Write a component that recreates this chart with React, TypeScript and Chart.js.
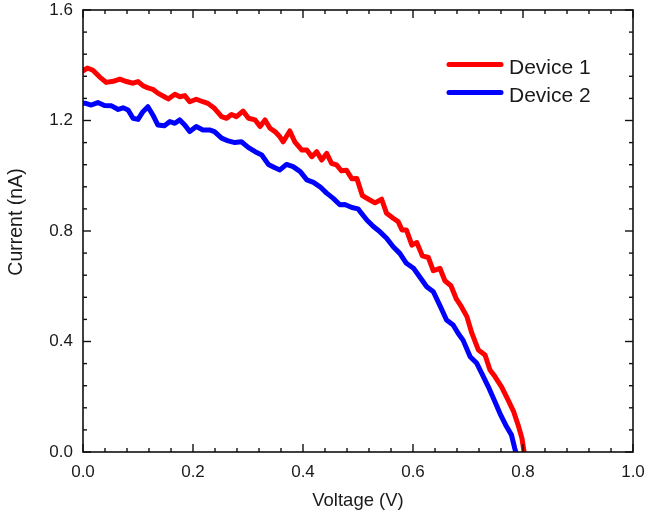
import React, { useEffect, useRef } from "react";
import { Chart, registerables } from "chart.js";

Chart.register(...registerables);

const seriesLabels = ["Device 1", "Device 2"];
const seriesColors = ["#ff0000", "#0000ff"];

const device1Voltage = [
  0.0, 0.008, 0.018, 0.03, 0.042, 0.055, 0.067, 0.079, 0.091, 0.1, 0.109, 0.118, 0.127, 0.136,
  0.148, 0.155, 0.167, 0.176, 0.185, 0.194, 0.206, 0.218, 0.227, 0.239, 0.252, 0.261, 0.27,
  0.279, 0.291, 0.301, 0.313, 0.322, 0.331, 0.34, 0.349, 0.358, 0.364, 0.376, 0.385, 0.398,
  0.407, 0.416, 0.425, 0.434, 0.443, 0.452, 0.461, 0.47, 0.479, 0.489, 0.498, 0.508, 0.52,
  0.531, 0.543, 0.552, 0.564, 0.573, 0.58, 0.588, 0.598, 0.607, 0.617, 0.628, 0.637, 0.649,
  0.658, 0.669, 0.679, 0.688, 0.698, 0.707, 0.719, 0.731, 0.74, 0.749, 0.761, 0.773, 0.783,
  0.792, 0.798, 0.802,
];
const device1Current = [
  1.38, 1.39, 1.382, 1.358, 1.338, 1.342, 1.35, 1.341, 1.335, 1.341, 1.326, 1.318, 1.313, 1.299,
  1.286, 1.278, 1.295, 1.286, 1.29, 1.268, 1.277, 1.268, 1.262, 1.244, 1.214, 1.208, 1.222,
  1.214, 1.234, 1.208, 1.202, 1.178, 1.202, 1.172, 1.16, 1.141, 1.123, 1.162, 1.123, 1.093,
  1.093, 1.069, 1.087, 1.057, 1.081, 1.045, 1.039, 1.018, 1.02, 0.989, 0.99, 0.928, 0.914,
  0.902, 0.915, 0.864, 0.846, 0.834, 0.804, 0.804, 0.749, 0.758, 0.71, 0.704, 0.656, 0.665,
  0.62, 0.602, 0.553, 0.526, 0.49, 0.43, 0.369, 0.351, 0.297, 0.273, 0.236, 0.188, 0.146,
  0.092, 0.05, 0.0,
];

const device2Voltage = [
  0.0, 0.005, 0.015, 0.027, 0.039, 0.052, 0.064, 0.073, 0.082, 0.091, 0.1, 0.109, 0.118, 0.127,
  0.136, 0.148, 0.158, 0.167, 0.176, 0.185, 0.194, 0.206, 0.218, 0.23, 0.239, 0.252, 0.264,
  0.276, 0.288, 0.301, 0.313, 0.325, 0.337, 0.349, 0.358, 0.37, 0.382, 0.395, 0.407, 0.419,
  0.431, 0.443, 0.455, 0.467, 0.476, 0.489, 0.5, 0.516, 0.528, 0.54, 0.552, 0.564, 0.576,
  0.588, 0.601, 0.613, 0.625, 0.637, 0.649, 0.661, 0.673, 0.682, 0.691, 0.704, 0.716, 0.725,
  0.737, 0.749, 0.758, 0.77, 0.779, 0.785, 0.787,
];
const device2Current = [
  1.262, 1.262, 1.256, 1.265, 1.254, 1.253, 1.24, 1.246, 1.238, 1.208, 1.204, 1.232, 1.25, 1.22,
  1.184, 1.181, 1.196, 1.19, 1.202, 1.184, 1.16, 1.178, 1.166, 1.166, 1.16, 1.136, 1.126,
  1.12, 1.123, 1.102, 1.087, 1.075, 1.041, 1.029, 1.021, 1.041, 1.033, 1.015, 0.985, 0.976,
  0.96, 0.937, 0.918, 0.895, 0.896, 0.885, 0.88, 0.84, 0.816, 0.797, 0.774, 0.743, 0.719,
  0.683, 0.665, 0.632, 0.598, 0.58, 0.53, 0.478, 0.46, 0.43, 0.405, 0.345, 0.321, 0.285,
  0.236, 0.182, 0.14, 0.092, 0.062, 0.013, 0.0,
];

const xMajorTicks = [0, 0.2, 0.4, 0.6, 0.8, 1.0];
const xMinorTicks = [0.04, 0.08, 0.12, 0.16, 0.24, 0.28, 0.32, 0.36, 0.44, 0.48, 0.52, 0.56, 0.64, 0.68, 0.72, 0.76, 0.84, 0.88, 0.92, 0.96];
const yMajorTicks = [0, 0.4, 0.8, 1.2, 1.6];
const yMinorTicks = [0.08, 0.16, 0.24, 0.32, 0.48, 0.56, 0.64, 0.72, 0.88, 0.96, 1.04, 1.12, 1.28, 1.36, 1.44, 1.52];

const xTitle = "Voltage (V)";
const yTitle = "Current (nA)";

const FONT = "'Liberation Sans', Arial, sans-serif";
const TEXT = "#1a1a1a";

const framePlugin = {
  id: "frameAndLegend",
  afterDraw(chart: any) {
    const { ctx, chartArea } = chart;
    const { left, right, top, bottom } = chartArea;
    const xs = chart.scales.x;
    const ys = chart.scales.y;
    ctx.save();
    ctx.strokeStyle = "#111";
    ctx.lineWidth = 1.6;
    ctx.strokeRect(left, top, right - left, bottom - top);
    ctx.lineWidth = 1.4;
    const tick = (x1: number, y1: number, x2: number, y2: number) => {
      ctx.beginPath();
      ctx.moveTo(x1, y1);
      ctx.lineTo(x2, y2);
      ctx.stroke();
    };
    xMajorTicks.forEach((v) => {
      const p = xs.getPixelForValue(v);
      tick(p, bottom, p, bottom - 8);
      tick(p, top, p, top + 8);
    });
    xMinorTicks.forEach((v) => {
      const p = xs.getPixelForValue(v);
      tick(p, bottom, p, bottom - 4);
      tick(p, top, p, top + 4);
    });
    yMajorTicks.forEach((v) => {
      const p = ys.getPixelForValue(v);
      tick(left, p, left + 8, p);
      tick(right, p, right - 8, p);
    });
    yMinorTicks.forEach((v) => {
      const p = ys.getPixelForValue(v);
      tick(left, p, left + 4, p);
      tick(right, p, right - 4, p);
    });

    // axis titles
    ctx.fillStyle = TEXT;
    ctx.font = `18.5px ${FONT}`;
    ctx.textAlign = "center";
    ctx.textBaseline = "middle";
    ctx.fillText(xTitle, (left + right) / 2, 501);
    ctx.save();
    ctx.translate(17, 222);
    ctx.rotate(-Math.PI / 2);
    ctx.font = `19.5px ${FONT}`;
    ctx.fillText(yTitle, 0, 0);
    ctx.restore();

    // legend
    const legendY = [73.5, 101.5];
    const lineY = [64.5, 92.5];
    chart.data.datasets.forEach((ds: any, i: number) => {
      ctx.strokeStyle = ds.borderColor;
      ctx.lineWidth = 5;
      ctx.lineCap = "round";
      tick(449, lineY[i], 501, lineY[i]);
      ctx.fillStyle = TEXT;
      ctx.font = `21px ${FONT}`;
      ctx.textAlign = "left";
      ctx.textBaseline = "alphabetic";
      ctx.fillText(ds.label, 509, legendY[i]);
    });
    ctx.restore();
  },
};

export default function App() {
  const ref = useRef<HTMLCanvasElement | null>(null);
  useEffect(() => {
    document.body.style.margin = "0";
    if (!ref.current) return;
    const toPoints = (xs: number[], ys: number[]) => xs.map((x, i) => ({ x, y: ys[i] }));
    const chart = new Chart(ref.current, {
      type: "scatter",
      data: {
        datasets: [
          {
            label: seriesLabels[0],
            data: toPoints(device1Voltage, device1Current),
            borderColor: seriesColors[0],
            backgroundColor: seriesColors[0],
            showLine: true,
            borderWidth: 5,
            pointRadius: 0,
            tension: 0,
            borderJoinStyle: "round",
            borderCapStyle: "round",
          },
          {
            label: seriesLabels[1],
            data: toPoints(device2Voltage, device2Current),
            borderColor: seriesColors[1],
            backgroundColor: seriesColors[1],
            showLine: true,
            borderWidth: 5,
            pointRadius: 0,
            tension: 0,
            borderJoinStyle: "round",
            borderCapStyle: "round",
          },
        ],
      } as any,
      options: {
        animation: false,
        responsive: false,
        devicePixelRatio: 1,
        layout: { padding: { left: 0, right: 15, top: 10, bottom: 0 } },
        plugins: { legend: { display: false }, tooltip: { enabled: false } },
        scales: {
          x: {
            type: "linear",
            min: 0,
            max: 1,
            grid: { display: false, drawTicks: false },
            border: { display: false },
            ticks: {
              stepSize: 0.2,
              padding: 10,
              color: TEXT,
              font: { family: FONT, size: 17 },
              callback: (v: any) => Number(v).toFixed(1),
            },
            afterFit: (s: any) => {
              s.height = 68;
              s.paddingLeft = 0;
              s.paddingRight = 0;
              s.paddingTop = 0;
              s.paddingBottom = 0;
            },
          },
          y: {
            type: "linear",
            min: 0,
            max: 1.6,
            grid: { display: false, drawTicks: false },
            border: { display: false },
            ticks: {
              stepSize: 0.4,
              padding: 10,
              color: TEXT,
              font: { family: FONT, size: 17 },
              callback: (v: any) => Number(v).toFixed(1),
            },
            afterFit: (s: any) => {
              s.width = 83;
              s.paddingLeft = 0;
              s.paddingRight = 0;
              s.paddingTop = 0;
              s.paddingBottom = 0;
            },
          },
        },
      } as any,
      plugins: [framePlugin],
    });
    return () => chart.destroy();
  }, []);
  return (
    <canvas
      ref={ref}
      width={648}
      height={520}
      style={{ display: "block", position: "absolute", left: 0, top: 0, width: 648, height: 520 }}
    />
  );
}
